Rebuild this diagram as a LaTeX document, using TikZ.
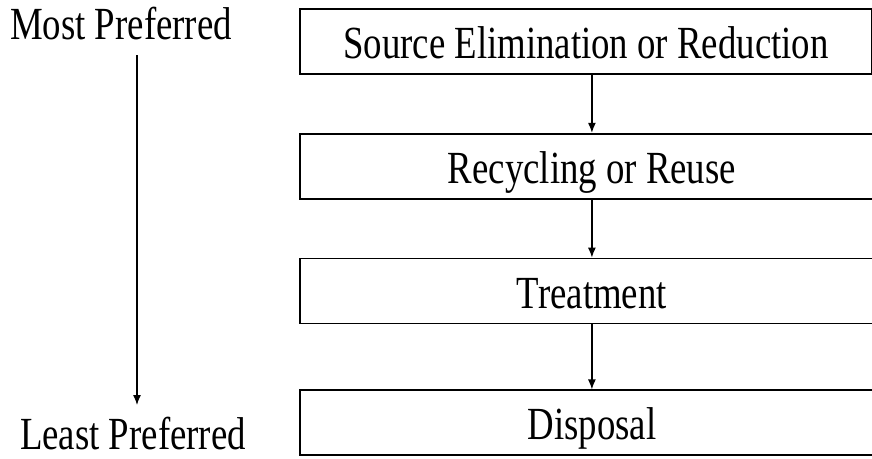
\documentclass[tikz,border=0pt]{standalone}
\usepackage{fontspec}
\setmainfont[FakeStretch=0.8]{Liberation Serif}
\usepackage{tikz}
\usetikzlibrary{arrows.meta,positioning}
\tikzset{
    etiqueta/.style={draw=none,fill=none,inner sep=0pt,anchor=base,node font=\fontsize{46}{52}\selectfont},
    caja/.style={rectangle,draw,line width=1.8pt,inner sep=0pt,minimum height=65pt,
                 text height=34pt,text depth=0pt,node font=\fontsize{46}{52}\selectfont},
    flecha/.style={draw,->,>={Latex[length=10pt,width=8pt]},line width=1.3pt},
}
\begin{document}
\begin{tikzpicture}[x=1pt,y=-1pt]
\useasboundingbox[fill=white] (0,0) rectangle (872,458);

\node[caja,minimum width=572pt,anchor=north west] (b1) at (299,8) {Source Elimination or Reduction};
\node[caja,minimum width=584pt,below=58pt of b1.south west,anchor=north west] (b2) {Recycling or Reuse};
\node[caja,minimum width=584pt,below=58pt of b2.south west,anchor=north west] (b3) {Treatment};
\node[caja,minimum width=584pt,below=65pt of b3.south west,anchor=north west] (b4) {Disposal};

\draw[flecha] (b2.north |- b1.south)--(b2.north);
\draw[flecha] (b2.south)--(b3.north);
\draw[flecha] (b3.south)--(b4.north);

\node[etiqueta] (mas)   at (121,39)  {Most Preferred};
\node[etiqueta] (menos) at (133,449) {Least Preferred};
\coordinate (arriba) at (137,55);
\coordinate (abajo)  at (137,405);
\draw[flecha] (arriba)--(abajo);
\end{tikzpicture}
\end{document}
